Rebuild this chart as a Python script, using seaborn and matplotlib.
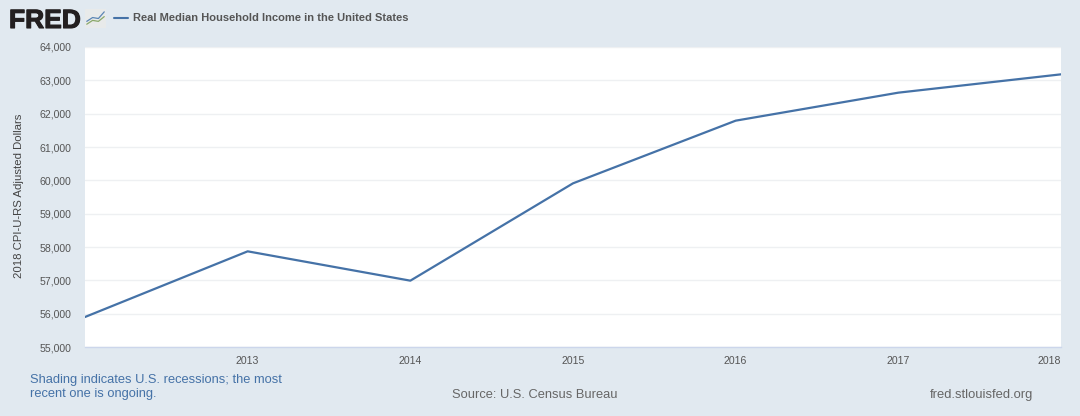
import matplotlib
matplotlib.use("Agg")
import matplotlib.pyplot as plt
import matplotlib.patheffects as pe
import seaborn as sns
import pandas as pd
from matplotlib.patches import Rectangle

years = [2012, 2013, 2014, 2015, 2016, 2017, 2018]
income = [55900, 57870, 56990, 59910, 61790, 62630, 63180]
y_ticks = [55000, 56000, 57000, 58000, 59000, 60000, 61000, 62000, 63000, 64000]
x_ticks = [2013, 2014, 2015, 2016, 2017, 2018]
icon_blue = [0.35, 0.55, 0.5, 0.85]
icon_green = [0.2, 0.4, 0.35, 0.6]

BG = "#e1e9f0"
BLUE = "#4572a7"
W, H = 1080, 416

sns.set_theme(style="white")
plt.rcParams['font.family'] = ['Liberation Sans', 'DejaVu Sans']

fig = plt.figure(figsize=(W / 100, H / 100), dpi=100, facecolor=BG)
ax = fig.add_axes([85 / W, 1 - 347 / H, (1061 - 85) / W, 300 / H], facecolor="white")

df = pd.DataFrame({"year": years, "income": income})
sns.lineplot(data=df, x="year", y="income", color=BLUE, linewidth=1.6, ax=ax, errorbar=None)

ax.set_xlim(2012, 2018)
ax.set_ylim(55000, 64000)
ax.set_xlabel("")
ax.set_ylabel("2018 CPI-U-RS Adjusted Dollars", fontsize=8.2, color="#444444", labelpad=0)
ax.yaxis.set_label_coords((24 - 85) / (1061 - 85), 0.505)
ax.set_yticks(y_ticks)
ax.set_yticklabels([f"{v:,}" for v in y_ticks], fontsize=7.6, color="#555555")
ax.set_xticks(x_ticks)
ax.set_xticklabels([str(v) for v in x_ticks], fontsize=7.6, color="#555555")
ax.grid(axis="y", color="#eef0f2", linewidth=1)
ax.set_axisbelow(True)
ax.tick_params(axis="y", length=0, pad=10)
ax.tick_params(axis="x", length=7, width=1, color="#ccd6eb", pad=-0.5, direction="out")
for s in ["top", "right", "left"]:
    ax.spines[s].set_visible(False)
ax.spines["bottom"].set_color("#ccd6eb")
ax.spines["bottom"].set_linewidth(1)

labels = ax.get_xticklabels()
labels[-1].set_ha("right")


def fx(px):
    return px / W


def fy(py):
    return 1 - py / H


# FRED logo
logo = fig.text(fx(9), fy(28), "FRED", fontsize=19, fontweight="bold", color="#231f20", ha="left", va="baseline")
logo.set_path_effects([pe.withStroke(linewidth=0.8, foreground="#231f20")])
icon = fig.add_axes([85 / W, 1 - 28 / H, 21 / W, 19 / H], facecolor="#e8eaea")
icon.add_patch(Rectangle((-0.3, 0), 3.6, 1, color="#e8eaea", zorder=0))
icon.plot(range(4), icon_blue, color="#5b86b5", lw=0.9)
icon.plot(range(4), icon_green, color="#8aa86a", lw=0.9)
icon.set_xlim(-0.3, 3.3)
icon.set_ylim(0, 1)
icon.axis("off")

# legend
fig.add_artist(plt.Line2D([fx(114), fx(128)], [fy(18), fy(18)], color=BLUE, lw=1.5))
fig.text(fx(133), fy(18), "Real Median Household Income in the United States", fontsize=8.0, fontweight="bold",
         color="#555555", va="center", ha="left")

# footer
fig.text(fx(30), fy(397), "Shading indicates U.S. recessions; the most\nrecent one is ongoing.", fontsize=9.3,
         color=BLUE, va="baseline", ha="left", linespacing=1.2)
fig.text(fx(452), fy(398), "Source: U.S. Census Bureau", fontsize=9.3, color="#666666", va="baseline", ha="left")
fig.text(fx(930), fy(398), "fred.stlouisfed.org", fontsize=9.4, color="#666666", va="baseline", ha="left")

fig.savefig("out.png", dpi=100, facecolor=BG)
